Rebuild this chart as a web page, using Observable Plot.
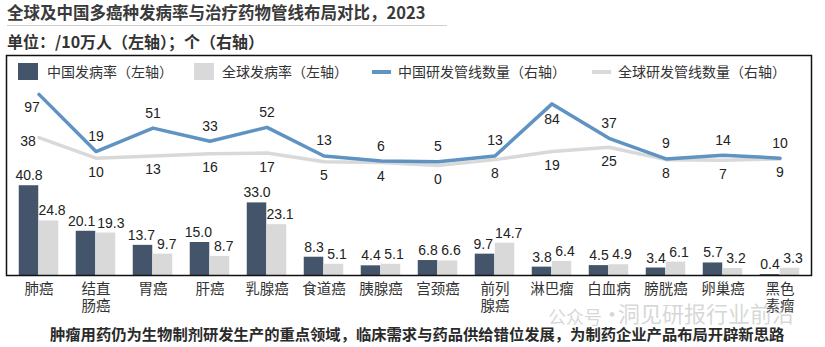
<!DOCTYPE html>
<html><head><meta charset="utf-8">
<script src="https://cdn.jsdelivr.net/npm/d3@7"></script>
<script src="https://cdn.jsdelivr.net/npm/@observablehq/plot@0.6"></script>
<style>
body{margin:0;background:#fff;font-family:"Liberation Sans","Noto Sans CJK SC",sans-serif;color:#333;}
#wrap{position:relative;width:825px;height:347px;overflow:hidden;background:#fff;}
.cjk{font-family:"Noto Sans CJK SC","Liberation Sans",sans-serif;}
.title{position:absolute;left:7px;top:2px;font-size:16.5px;line-height:20px;font-weight:bold;color:#3a3a3a;white-space:nowrap;}
.rule{position:absolute;left:7px;top:25px;width:440px;height:1px;background:#cfcfcf;}
.sub{position:absolute;left:7px;top:31px;font-size:16px;line-height:20px;font-weight:bold;color:#333;white-space:nowrap;}
#chart{position:absolute;left:0;top:53px;}
.lg{position:absolute;top:62px;font-size:14px;line-height:19px;color:#333;white-space:nowrap;}
.sw{position:absolute;}
.cap{position:absolute;left:50px;top:323px;font-size:15.3px;line-height:20px;font-weight:bold;color:#2a2a2a;white-space:nowrap;}
.wm{position:absolute;top:298px;font-size:22px;line-height:28px;color:rgba(175,175,175,0.5);white-space:nowrap;}
</style>
</head><body>
<div id="wrap">
  <div class="title cjk">全球及中国多癌种发病率与治疗药物管线布局对比，2023</div>
  <div class="rule"></div>
  <div class="sub cjk">单位：/10万人（左轴）；个（右轴）</div>
  <div id="chart"></div>
  <div id="legend"></div>
  <div class="wm cjk" style="left:548px;font-size:18px;top:302px;">公众号</div>
  <div class="wm cjk" style="left:601px;">·</div>
  <div class="wm cjk" style="left:618px;">洞见研报行业前沿</div>
  <div class="cap cjk">肿瘤用药仍为生物制剂研发生产的重点领域，临床需求与药品供给错位发展，为制药企业产品布局开辟新思路</div>
</div>
<script>
// ---- data ----
const categories = ["肺癌","结直\n肠癌","胃癌","肝癌","乳腺癌","食道癌","胰腺癌","宫颈癌","前列\n腺癌","淋巴瘤","白血病","膀胱癌","卵巢癌","黑色\n素瘤"];
const chinaIncidence  = [40.8,20.1,13.7,15.0,33.0,8.3,4.4,6.8,9.7,3.8,4.5,3.4,5.7,0.4];
const globalIncidence = [24.8,19.3,9.7,8.7,23.1,5.1,5.1,6.6,14.7,6.4,4.9,6.1,3.2,3.3];
const chinaPipeline   = [97,19,51,33,52,13,6,5,13,84,37,9,14,10];
const globalPipeline  = [38,10,13,16,17,5,4,0,8,19,25,8,7,9];
const leftDomain  = [0,100];
const rightDomain = [-150,150];
const seriesNames = ["中国发病率（左轴）","全球发病率（左轴）","中国研发管线数量（右轴）","全球研发管线数量（右轴）"];

// ---- styles ----
const C_DARK = "#44546a", C_LIGHT = "#d9d9d9", C_BLUE = "#5e93c2", C_GRAY = "#d9d9d9";
const FONT = '"Liberation Sans","Noto Sans CJK SC",sans-serif';
const CJK = '"Noto Sans CJK SC","Liberation Sans",sans-serif';

const toLeft = v => (v - rightDomain[0]) / (rightDomain[1] - rightDomain[0]) * (leftDomain[1] - leftDomain[0]) + leftDomain[0];

const W=825, H=264, mL=6, mR=14, mT=2, mB=42;
const step=(W-mL-mR)/categories.length, barW=20, side=(step-2*barW)/2;
const pxPerUnit = (H-mT-mB)/(leftDomain[1]-leftDomain[0]);

// simple label collision avoidance for the paired bar labels
const textW = s => [...s].reduce((a,ch)=>a+(ch==="."?3.9:7.8),0);
const rows = categories.map((c,i)=>{
  const cn=chinaIncidence[i], gl=globalIncidence[i];
  const ld=cn.toFixed(1), ll=gl.toFixed(1);
  let dxD=-barW/2, dxL=barW/2+3;
  if (Math.abs(cn-gl)*pxPerUnit < 14){
    const gap=(dxL-textW(ll)/2)-(dxD+textW(ld)/2);
    if (gap<2){ dxD-= (2-gap)*0.7; dxL+=(2-gap)*0.3; }
  }
  return {c,i,cn,gl,ld,ll,dxD,dxL,cp:chinaPipeline[i],gp:globalPipeline[i]};
});

const txt = {fontSize:14, fill:"#222", fontFamily:FONT};

const chart = Plot.plot({
  width:W, height:H, marginLeft:mL, marginRight:mR, marginTop:mT, marginBottom:mB,
  x:{type:"band", domain:categories, padding:0, axis:null},
  y:{domain:leftDomain, axis:null},
  style:{fontFamily:FONT, overflow:"visible", background:"transparent"},
  marks:[
    Plot.barY(rows,{x:"c", y:"cn", fill:C_DARK, insetLeft:side, insetRight:side+barW}),
    Plot.barY(rows,{x:"c", y:"gl", fill:C_LIGHT, insetLeft:side+barW, insetRight:side}),
    ...rows.map(d=>Plot.text([d],{x:"c", y:"cn", text:"ld", dx:d.dxD, dy:-10, ...txt})),
    ...rows.map(d=>Plot.text([d],{x:"c", y:"gl", text:"ll", dx:d.dxL, dy:-10, ...txt})),
    Plot.line(rows,{x:"c", y:d=>toLeft(d.gp), stroke:C_GRAY, strokeWidth:3.5}),
    Plot.line(rows,{x:"c", y:d=>toLeft(d.cp), stroke:C_BLUE, strokeWidth:3.5}),
    // China pipeline labels
    Plot.text(rows,{filter:d=>d.i>0 && d.cp!==84, x:"c", y:d=>toLeft(d.cp), text:d=>String(d.cp), dy:-15, ...txt}),
    Plot.text(rows,{filter:d=>d.i===0, x:"c", y:d=>toLeft(d.cp), text:d=>String(d.cp), dx:-7, dy:13, ...txt}),
    Plot.text(rows,{filter:d=>d.cp===84, x:"c", y:d=>toLeft(d.cp), text:d=>String(d.cp), dy:16, ...txt}),
    // Global pipeline labels
    Plot.text(rows,{filter:d=>d.i>0, x:"c", y:d=>toLeft(d.gp), text:d=>String(d.gp), dy:14, ...txt}),
    Plot.text(rows,{filter:d=>d.i===0, x:"c", y:d=>toLeft(d.gp), text:d=>String(d.gp), dx:-11, dy:4, ...txt}),
    Plot.axisX({tickSize:0, tickPadding:6, fontSize:14.5, lineHeight:1.18, fill:"#333", label:null, fontFamily:CJK}),
    Plot.frame({stroke:"#111", strokeWidth:1.5})
  ]
});
document.getElementById("chart").appendChild(chart);

// ---- legend (HTML overlay inside the frame) ----
const lg = document.getElementById("legend");
const items = [
  {name:seriesNames[0], kind:"box", color:C_DARK, sx:18, tx:47},
  {name:seriesNames[1], kind:"box", color:C_LIGHT, sx:194, tx:222},
  {name:seriesNames[2], kind:"line", color:C_BLUE, sx:372, tx:398},
  {name:seriesNames[3], kind:"line", color:C_GRAY, sx:592, tx:618}
];
for (const it of items){
  const s = document.createElement("div");
  s.className="sw";
  if (it.kind==="box"){ Object.assign(s.style,{left:it.sx+"px",top:"63px",width:"20px",height:"17px",background:it.color}); }
  else { Object.assign(s.style,{left:it.sx+"px",top:"70px",width:"19px",height:"3.5px",background:it.color}); }
  lg.appendChild(s);
  const t = document.createElement("div");
  t.className="lg cjk"; t.style.left=it.tx+"px"; t.textContent=it.name;
  lg.appendChild(t);
}
</script>
</body></html>
